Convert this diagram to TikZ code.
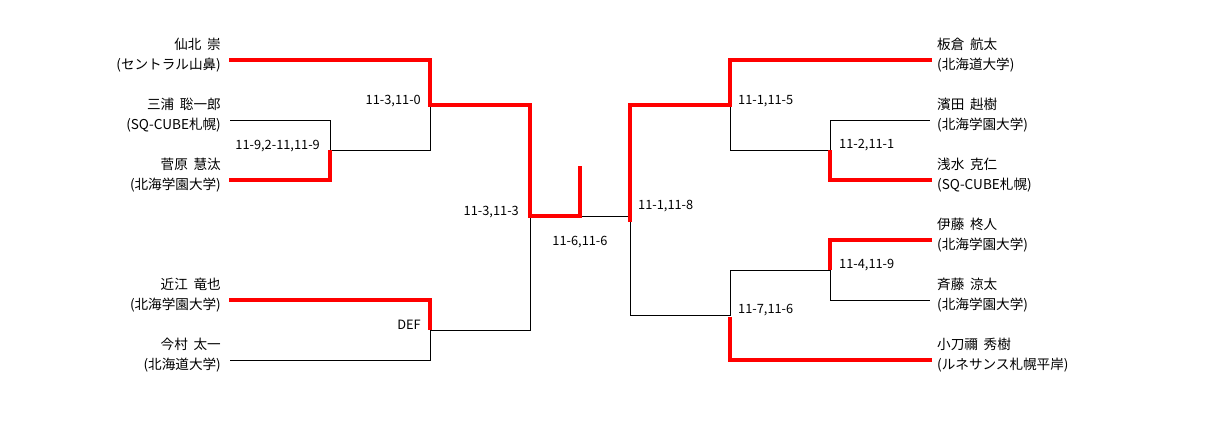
\documentclass[tikz,border=0pt]{standalone}
\usepackage{fontspec}
\setmainfont{Noto Sans CJK JP}
\newcommand\namegap{\hspace{0.42em}}
\begin{document}
\begin{tikzpicture}[x=1pt,y=-1pt,
  win/.style={draw=red,line width=4pt,line join=miter},
  lose/.style={draw=black,line width=0.9pt},
  lname/.style={anchor=east,align=right,inner sep=0pt,font=\fontsize{13.6}{20}\selectfont},
  rname/.style={anchor=west,align=left,inner sep=0pt,font=\fontsize{13.6}{20}\selectfont},
  score/.style={inner sep=0pt,font=\fontsize{12.8}{14}\selectfont}]
\useasboundingbox (0,0) rectangle (1210,440);
% player labels, left
\node[lname] (p1) at (221,55) {仙北\namegap 崇\\(セントラル山鼻)};
\node[lname] (p2) at (221,115) {三浦\namegap 聡一郎\\(SQ-CUBE札幌)};
\node[lname] (p3) at (221,175) {菅原\namegap 慧汰\\(北海学園大学)};
\node[lname] (p4) at (221,295) {近江\namegap 竜也\\(北海学園大学)};
\node[lname] (p5) at (221,355) {今村\namegap 太一\\(北海道大学)};
% player labels, right
\node[rname] (q1) at (937,55) {板倉\namegap 航太\\(北海道大学)};
\node[rname] (q2) at (937,115) {濱田\namegap 赳樹\\(北海学園大学)};
\node[rname] (q3) at (937,175) {浅水\namegap 克仁\\(SQ-CUBE札幌)};
\node[rname] (q4) at (937,235) {伊藤\namegap 柊人\\(北海学園大学)};
\node[rname] (q5) at (937,295) {斉藤\namegap 涼太\\(北海学園大学)};
\node[rname] (q6) at (937,355) {小刀禰\namegap 秀樹\\(ルネサンス札幌平岸)};
% line ends
\coordinate (a1) at (229,60);
\coordinate (a2) at (230,120);
\coordinate (a3) at (229,180);
\coordinate (a4) at (229,300);
\coordinate (a5) at (230,360);
\coordinate (b1) at (932,60);
\coordinate (b2) at (930,120);
\coordinate (b3) at (932,180);
\coordinate (b4) at (932,240);
\coordinate (b5) at (930,300);
\coordinate (b6) at (932,360);
% junctions
\coordinate (j23) at (330,150);
\coordinate (j123) at (430,105);
\coordinate (j45) at (430,330);
\coordinate (jL) at (530,216);
\coordinate (jC) at (580,216);
\coordinate (jR) at (630,216);
\coordinate (k23) at (830,150);
\coordinate (k123) at (730,105);
\coordinate (k45) at (830,270);
\coordinate (k456) at (730,315);
% thin lines
\draw[lose] (a2) -| (j23) -| (j123);
\draw[lose] (a5) -| (j45) -| (jL);
\draw[lose] (jC) -- (jR) |- (k456) |- (k45) |- (b5);
\draw[lose] (k123) |- (k23) |- (b2);
% red winner paths
\draw[win] (a1) -| (j123) -| (jL) -- (jC) -- ++(0,-50);
\draw[win] (a3) -| (j23);
\draw[win] (a4) -| (j45);
\draw[win] (b1) -| (k123) -| ([yshift=-6pt]jR);
\draw[win] (b3) -| (k23);
\draw[win] (b4) -| (k45);
\draw[win] (b6) -| ([yshift=-2pt]k456);
% scores
\node[score,anchor=east] (s1) at (421,101) {11-3,11-0};
\node[score,anchor=east] (s2) at (320,146) {11-9,2-11,11-9};
\node[score,anchor=east] (s3) at (421,325) {DEF};
\node[score,anchor=east] (s4) at (519,212) {11-3,11-3};
\node[score] (s5) at (580,242) {11-6,11-6};
\node[score,anchor=west] (s6) at (638,206) {11-1,11-8};
\node[score,anchor=west] (s7) at (738,101) {11-1,11-5};
\node[score,anchor=west] (s8) at (839,145) {11-2,11-1};
\node[score,anchor=west] (s9) at (839,265) {11-4,11-9};
\node[score,anchor=west] (s10) at (738,310) {11-7,11-6};
\end{tikzpicture}
\end{document}
